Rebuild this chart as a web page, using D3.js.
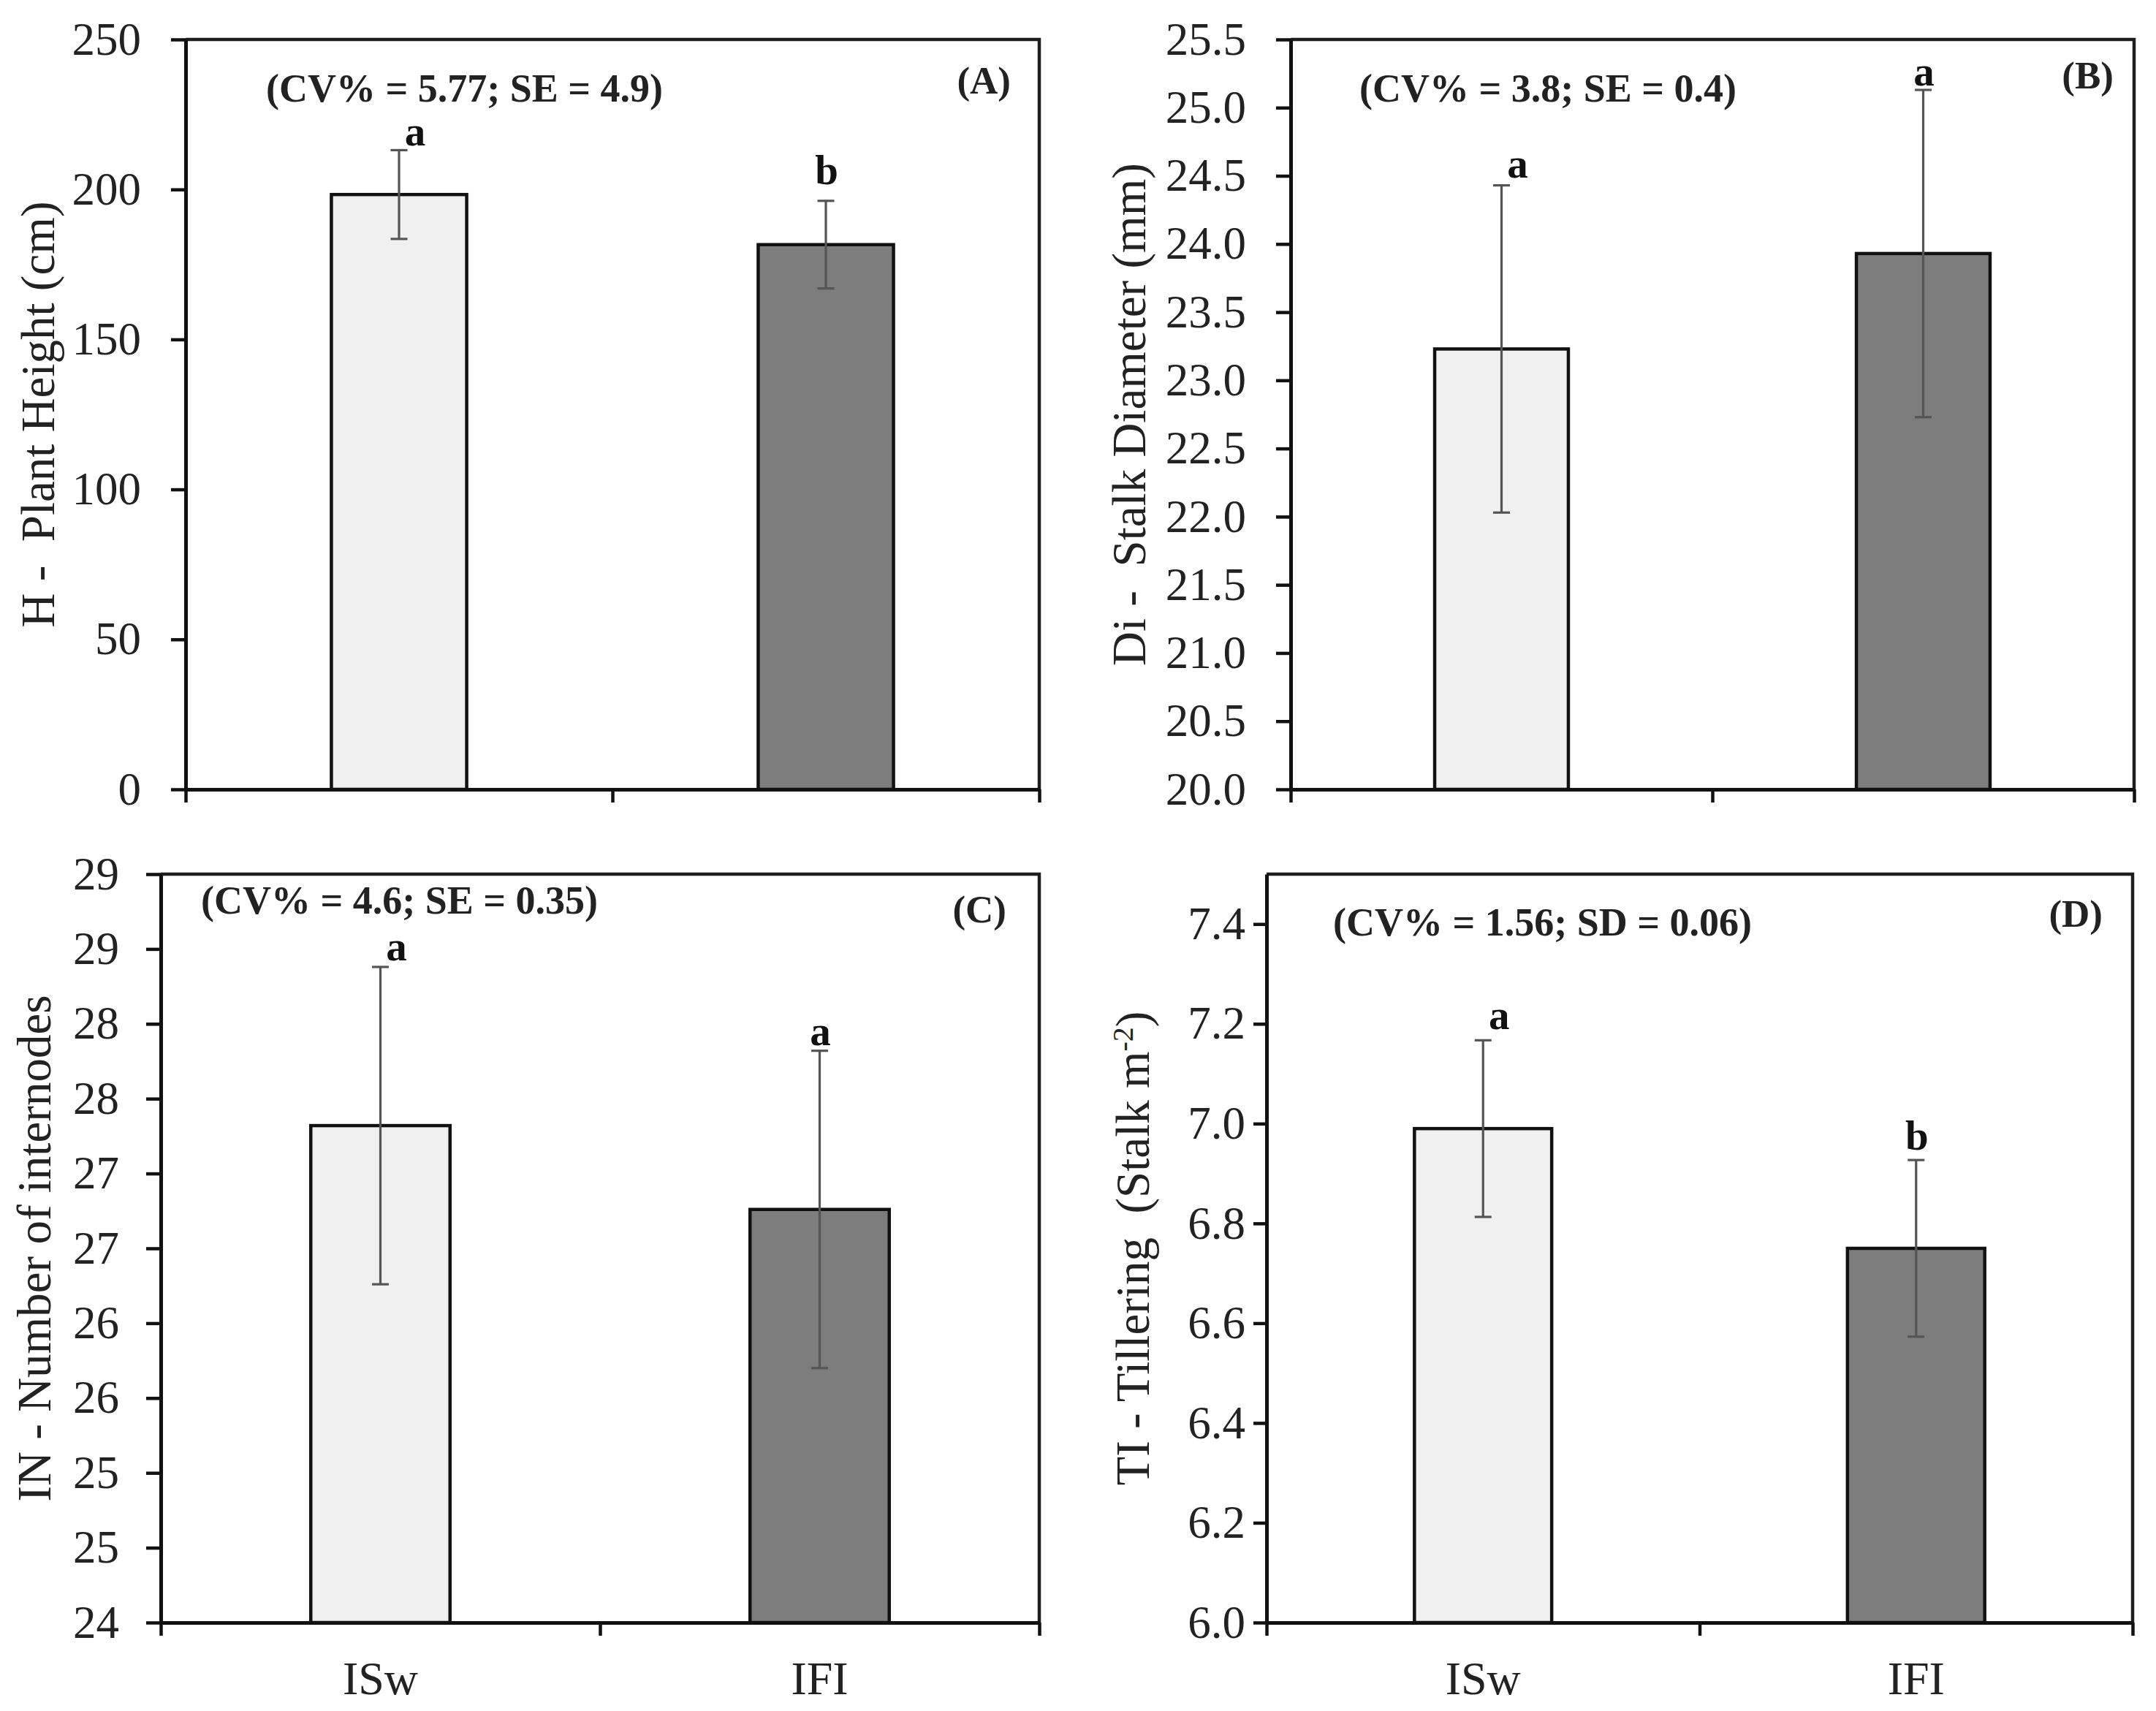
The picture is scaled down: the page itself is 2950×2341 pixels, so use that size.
<!DOCTYPE html>
<html>
<head>
<meta charset="utf-8">
<script src="https://cdn.jsdelivr.net/npm/d3@7"></script>
<style>
  html, body { margin: 0; padding: 0; background: #ffffff; }
  svg { display: block; }
  text { font-family: "Liberation Serif", "Times New Roman", "DejaVu Serif", serif; }
</style>
</head>
<body>
<script>
// ---------------- DATA ----------------
const categories = ["ISw", "IFI"];

const heightMeans = [198.3, 181.6];
const heightErrors = [14.8, 14.6];
const heightLetters = ["a", "b"];
const heightTicks = [0, 50, 100, 150, 200, 250];
const heightTickLabels = ["0", "50", "100", "150", "200", "250"];

const diameterMeans = [23.23, 23.93];
const diameterErrors = [1.2, 1.2];
const diameterLetters = ["a", "a"];
const diameterTicks = [20.0, 20.5, 21.0, 21.5, 22.0, 22.5, 23.0, 23.5, 24.0, 24.5, 25.0, 25.5];
const diameterTickLabels = ["20.0", "20.5", "21.0", "21.5", "22.0", "22.5", "23.0", "23.5", "24.0", "24.5", "25.0", "25.5"];

const internodeMeans = [27.32, 26.76];
const internodeErrors = [1.06, 1.06];
const internodeLetters = ["a", "a"];
const internodeTicks = [24, 24.5, 25, 25.5, 26, 26.5, 27, 27.5, 28, 28.5, 29];
const internodeTickLabels = ["24", "25", "25", "26", "26", "27", "27", "28", "28", "29", "29"];

const tilleringMeans = [6.99, 6.75];
const tilleringErrors = [0.177, 0.177];
const tilleringLetters = ["a", "b"];
const tilleringTicks = [6.0, 6.2, 6.4, 6.6, 6.8, 7.0, 7.2, 7.4];
const tilleringTickLabels = ["6.0", "6.2", "6.4", "6.6", "6.8", "7.0", "7.2", "7.4"];

const panelTags = ["(A)", "(B)", "(C)", "(D)"];
const panelStats = ["(CV% = 5.77; SE = 4.9)", "(CV% = 3.8; SE = 0.4)", "(CV% = 4.6; SE = 0.35)", "(CV% = 1.56; SD = 0.06)"];
const panelDomains = [[0, 250], [20, 25.5], [24, 29], [6, 7.5]];

// ---------------- LAYOUT / STYLE ----------------
const W = 2950, H = 2341;
const barFill = ["#f0f0f0", "#7d7d7d"];
const barWidthRatio = 0.317;
const letterDx = [22, 1];
const fontMain = 63;

const layout = [
  { left: 254, right: 1422, top: 54, bottom: 1080, labelGap: 61, tickLen: 20, statX: 364, statY: 139, tagX: 1383, tagY: 128, yLabelX: 52, showCats: false, letterGap: [6, 23] },
  { left: 1766, right: 2920, top: 54, bottom: 1080, labelGap: 61, tickLen: 20, statX: 1860, statY: 139, tagX: 2892, tagY: 121, yLabelX: 1545, showCats: false, letterGap: [11, 6] },
  { left: 220, right: 1422, top: 1196, bottom: 2220, labelGap: 57, tickLen: 20, statX: 275, statY: 1250, tagX: 1377, tagY: 1262, yLabelX: 47, showCats: true, letterGap: [9, 8] },
  { left: 1733, right: 2918, top: 1196, bottom: 2220, labelGap: 29, tickLen: 18, statX: 1824, statY: 1280, tagX: 2877, tagY: 1268, yLabelX: 1550, showCats: true, letterGap: [15, 14] }
];

const panels = [
  { means: heightMeans, errs: heightErrors, letters: heightLetters, ticks: heightTicks, tickLabels: heightTickLabels, yLabel: [{ t: "H -  Plant Height (cm)" }] },
  { means: diameterMeans, errs: diameterErrors, letters: diameterLetters, ticks: diameterTicks, tickLabels: diameterTickLabels, yLabel: [{ t: "Di -  Stalk Diameter (mm)" }] },
  { means: internodeMeans, errs: internodeErrors, letters: internodeLetters, ticks: internodeTicks, tickLabels: internodeTickLabels, yLabel: [{ t: "IN - Number of internodes" }] },
  { means: tilleringMeans, errs: tilleringErrors, letters: tilleringLetters, ticks: tilleringTicks, tickLabels: tilleringTickLabels, yLabel: [{ t: "TI - Tillering  (Stalk m" }, { t: "-2", sup: true }, { t: ")" }] }
];

const svg = d3.select("body").append("svg")
  .attr("width", W).attr("height", H)
  .attr("viewBox", `0 0 ${W} ${H}`);

svg.append("rect").attr("width", W).attr("height", H).attr("fill", "#ffffff");

panels.forEach((p, pi) => {
  const L = layout[pi];
  const dom = panelDomains[pi];
  const g = svg.append("g").attr("class", "panel");

  const x = d3.scaleBand().domain(categories).range([L.left, L.right]).padding(0);
  const y = d3.scaleLinear().domain(dom).range([L.bottom, L.top]);
  const edge = d3.scaleLinear().domain([0, categories.length]).range([L.left, L.right]);

  const rows = categories.map((c, i) => ({ cat: c, i, mean: p.means[i], err: p.errs[i], letter: p.letters[i] }));

  // frame (top & right)
  g.append("path")
    .attr("d", `M${L.left},${y(dom[1])}H${edge(categories.length)}V${y(dom[0])}`)
    .attr("fill", "none").attr("stroke", "#1e1e1e").attr("stroke-width", 4.5);

  // bars
  const bw = x.bandwidth() * barWidthRatio;
  g.selectAll("rect.bar").data(rows).join("rect")
    .attr("class", "bar")
    .attr("x", d => x(d.cat) + (x.bandwidth() - bw) / 2)
    .attr("width", bw)
    .attr("y", d => y(d.mean))
    .attr("height", d => y(dom[0]) - y(d.mean))
    .attr("fill", d => barFill[d.i])
    .attr("stroke", "#111")
    .attr("stroke-width", 4.5);

  // error bars
  const cx = d => x(d.cat) + x.bandwidth() / 2;
  const eg = g.selectAll("g.err").data(rows).join("g").attr("class", "err")
    .attr("stroke", "#555").attr("stroke-width", 3.2);
  eg.append("line").attr("x1", cx).attr("x2", cx)
    .attr("y1", d => y(d.mean - d.err)).attr("y2", d => y(d.mean + d.err));
  eg.append("line").attr("x1", d => cx(d) - 11.5).attr("x2", d => cx(d) + 11.5)
    .attr("y1", d => y(d.mean + d.err)).attr("y2", d => y(d.mean + d.err));
  eg.append("line").attr("x1", d => cx(d) - 11.5).attr("x2", d => cx(d) + 11.5)
    .attr("y1", d => y(d.mean - d.err)).attr("y2", d => y(d.mean - d.err));

  // significance letters
  g.selectAll("text.letter").data(rows).join("text")
    .attr("class", "letter")
    .attr("x", d => cx(d) + letterDx[d.i])
    .attr("y", d => y(d.mean + d.err) - L.letterGap[d.i])
    .attr("text-anchor", "middle")
    .attr("font-weight", "bold")
    .attr("font-size", 57)
    .attr("fill", "#111")
    .text(d => d.letter);

  // y axis
  const yAxis = d3.axisLeft(y)
    .tickValues(p.ticks)
    .tickFormat((d, i) => p.tickLabels[i])
    .tickSize(L.tickLen)
    .tickSizeOuter(0)
    .tickPadding(L.labelGap - L.tickLen);
  const ya = g.append("g").attr("transform", `translate(${L.left},0)`).call(yAxis);
  ya.select(".domain").attr("stroke", "#111").attr("stroke-width", 5);
  ya.selectAll(".tick line").attr("stroke", "#111").attr("stroke-width", 4.5);
  ya.selectAll(".tick text").attr("font-size", fontMain).attr("fill", "#222")
    .attr("font-family", "Liberation Serif, Times New Roman, serif");

  // x axis (ticks at category boundaries)
  const xAxis = d3.axisBottom(edge)
    .tickValues(d3.range(categories.length + 1))
    .tickFormat("")
    .tickSize(18)
    .tickSizeOuter(0);
  const xa = g.append("g").attr("transform", `translate(0,${L.bottom})`).call(xAxis);
  xa.select(".domain").attr("stroke", "#111").attr("stroke-width", 5);
  xa.selectAll(".tick line").attr("stroke", "#111").attr("stroke-width", 4.5);

  // category labels
  if (L.showCats) {
    g.selectAll("text.cat").data(rows).join("text")
      .attr("class", "cat")
      .attr("x", d => cx(d))
      .attr("y", L.bottom + 98)
      .attr("text-anchor", "middle")
      .attr("font-size", 64)
      .attr("fill", "#222")
      .text(d => d.cat);
  }

  // y label
  const yMid = (L.top + L.bottom) / 2;
  const yl = g.append("text")
    .attr("transform", `translate(${L.yLabelX},${yMid}) rotate(-90)`)
    .attr("text-anchor", "middle")
    .attr("dy", "0.34em")
    .attr("font-size", 65)
    .attr("fill", "#222")
    .style("white-space", "pre");
  p.yLabel.forEach(seg => {
    const t = yl.append("tspan").text(seg.t);
    if (seg.sup) t.attr("baseline-shift", "super").attr("font-size", 40);
  });

  // stats annotation
  g.append("text")
    .attr("x", L.statX).attr("y", L.statY)
    .attr("font-size", 54).attr("font-weight", "bold").attr("fill", "#222")
    .style("white-space", "pre")
    .text(panelStats[pi]);

  // panel tag
  g.append("text")
    .attr("x", L.tagX).attr("y", L.tagY)
    .attr("text-anchor", "end")
    .attr("font-size", 53).attr("font-weight", "bold").attr("fill", "#222")
    .text(panelTags[pi]);
});
</script>
</body>
</html>
